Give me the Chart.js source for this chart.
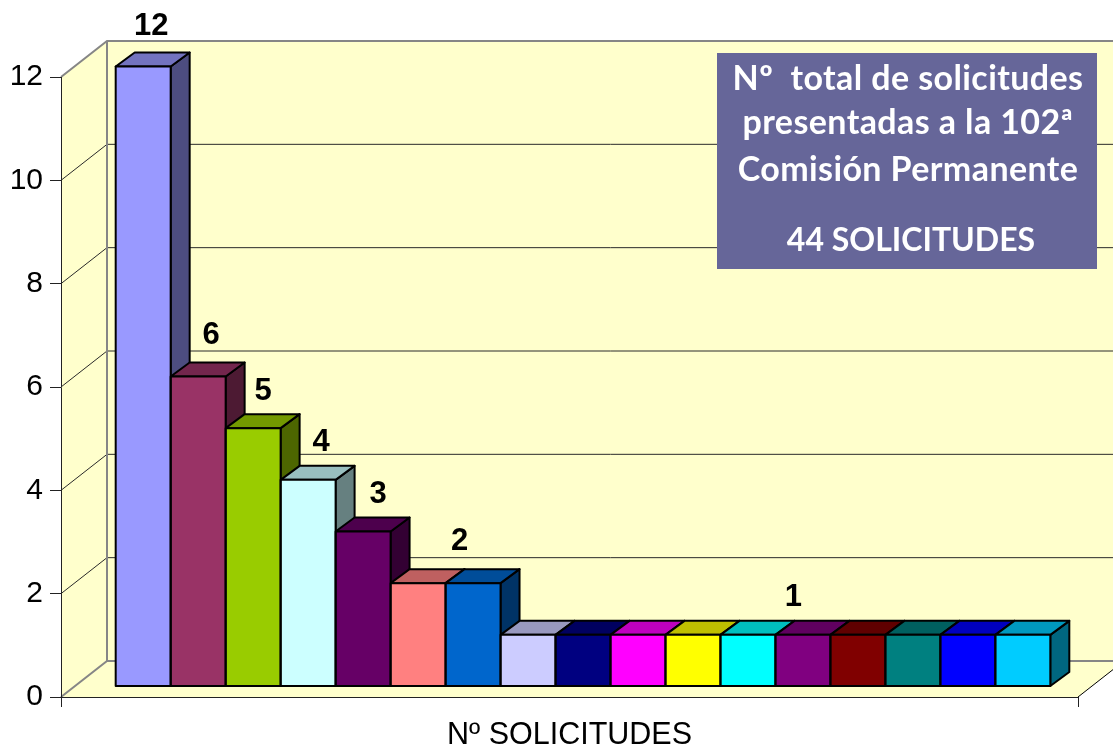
<!DOCTYPE html>
<html>
<head>
<meta charset="utf-8">
<style>html,body{margin:0;padding:0;background:#fff;overflow:hidden}canvas{display:block}</style>
<script src="https://cdn.jsdelivr.net/npm/chart.js@4"></script>
</head>
<body>
<canvas id="c" width="1113" height="747"></canvas>
<script>
const categories = ["Nº SOLICITUDES"];
const seriesValues = [12, 6, 5, 4, 3, 2, 2, 1, 1, 1, 1, 1, 1, 1, 1, 1, 1];
const seriesColors = ["#9999FF","#993366","#99CC00","#CCFFFF","#660066","#FF8080","#0066CC","#CCCCFF","#000080","#FF00FF","#FFFF00","#00FFFF","#800080","#800000","#008080","#0000FF","#00CCFF"];
const yTicksStep = 2;
const yMax = 12;
const noteLines = ["Nº  total de solicitudes","presentadas a la 102ª","Comisión Permanente","44 SOLICITUDES"];

const WALL = "#FFFFCC", GRAY = "#868686";
const WALL_DX = 46, WALL_DY = -36;      // depth of the chart box
const BAR_DX = 13.5, BAR_DY = -10.5;    // bars stand inside the box
const FACE_DX = 19, FACE_DY = -14;      // depth of each bar
const labelNudge = [[-5, 0], [0, -1], [-3, 3], [0, 3], [2, 3], [1, -2], [5, 3]];

function shade(hex, f) {
  const n = parseInt(hex.slice(1), 16);
  return "rgb(" + [(n >> 16) & 255, (n >> 8) & 255, n & 255].map(v => Math.round(v * f)).join(",") + ")";
}
function line(ctx, pts, color, width) {
  ctx.beginPath();
  pts.forEach((p, i) => i ? ctx.lineTo(p[0], p[1]) : ctx.moveTo(p[0], p[1]));
  ctx.strokeStyle = color; ctx.lineWidth = width; ctx.stroke();
}
function poly(ctx, pts, fill) {
  ctx.beginPath();
  pts.forEach((p, i) => i ? ctx.lineTo(p[0], p[1]) : ctx.moveTo(p[0], p[1]));
  ctx.closePath();
  ctx.fillStyle = fill; ctx.fill();
  ctx.strokeStyle = "#000"; ctx.lineWidth = 2; ctx.lineJoin = "round"; ctx.stroke();
}
function barRect(chart, i) {
  const b = chart.getDatasetMeta(i).data[0];
  return { l: b.x - b.width / 2, r: b.x + b.width / 2, t: b.y, b: b.base };
}

const box3d = {
  id: "box3d",
  beforeDraw(chart) {
    const { ctx, chartArea: a, scales } = chart;
    const y = scales.y;
    const L = a.left, R = a.right, T = a.top, B = a.bottom;
    const W = chart.width + 40;
    ctx.save();
    ctx.fillStyle = WALL;
    ctx.beginPath(); // left wall, back wall, floor
    ctx.moveTo(L, T); ctx.lineTo(L + WALL_DX, T + WALL_DY); ctx.lineTo(W, T + WALL_DY);
    ctx.lineTo(W, B + WALL_DY); ctx.lineTo(R + WALL_DX, B + WALL_DY); ctx.lineTo(R, B); ctx.lineTo(L, B);
    ctx.closePath(); ctx.fill();
    for (let v = yTicksStep; v < yMax; v += yTicksStep) {
      const p = y.getPixelForValue(v);
      line(ctx, [[L, p], [L + WALL_DX, p + WALL_DY], [W, p + WALL_DY]], "#2a2a2a", 1);
    }
    line(ctx, [[L, T], [L + WALL_DX, T + WALL_DY], [W, T + WALL_DY]], GRAY, 2);
    line(ctx, [[L + WALL_DX, T + WALL_DY], [L + WALL_DX, B + WALL_DY]], GRAY, 2);
    line(ctx, [[L, B], [L + WALL_DX, B + WALL_DY], [W, B + WALL_DY]], GRAY, 2);
    line(ctx, [[R, B], [R + WALL_DX, B + WALL_DY]], "#000", 1);
    ctx.restore();
  },
  beforeDatasetsDraw(chart) {
    const ctx = chart.ctx;
    ctx.save();
    ctx.translate(BAR_DX, BAR_DY);
    seriesValues.forEach((v, i) => {
      const r = barRect(chart, i), c = seriesColors[i];
      poly(ctx, [[r.r, r.t], [r.r + FACE_DX, r.t + FACE_DY], [r.r + FACE_DX, r.b + FACE_DY], [r.r, r.b]], shade(c, 0.5));
      poly(ctx, [[r.l, r.t], [r.l + FACE_DX, r.t + FACE_DY], [r.r + FACE_DX, r.t + FACE_DY], [r.r, r.t]], shade(c, 0.75));
    });
  },
  afterDatasetsDraw(chart) {
    const ctx = chart.ctx;
    seriesValues.forEach((v, i) => {
      const r = barRect(chart, i);
      ctx.strokeStyle = "#000"; ctx.lineWidth = 2;
      ctx.strokeRect(r.l, r.t, r.r - r.l, r.b - r.t);
    });
    ctx.restore();

    // one value label per run of equal values, centred over the run
    ctx.save();
    ctx.fillStyle = "#000";
    ctx.font = "bold 31px 'Liberation Sans'";
    ctx.textAlign = "center"; ctx.textBaseline = "middle";
    let s = 0, k = 0;
    while (s < seriesValues.length) {
      let e = s;
      while (e + 1 < seriesValues.length && seriesValues[e + 1] === seriesValues[s]) e++;
      const x = (barRect(chart, s).l + barRect(chart, e).r) / 2 + 14 + FACE_DX / 2 + 3;
      const top = barRect(chart, s).t + BAR_DY + FACE_DY;
      ctx.fillText(String(seriesValues[s]), x + labelNudge[k][0], top - 26 + labelNudge[k][1]);
      s = e + 1; k++;
    }
    ctx.restore();

    // note box
    ctx.save();
    ctx.fillStyle = "#666699";
    ctx.fillRect(717, 53, 380, 216);
    ctx.fillStyle = "#fff";
    ctx.textAlign = "center"; ctx.textBaseline = "alphabetic";
    ctx.font = "bold 34px Lato";
    ctx.letterSpacing = "0.4px";
    [90, 134, 181].forEach((yy, i) => ctx.fillText(noteLines[i], 908, yy));
    ctx.font = "bold 32px Lato";
    ctx.letterSpacing = "0px";
    ctx.fillText(noteLines[3], 911, 251);
    ctx.restore();
  }
};

new Chart(document.getElementById("c"), {
  type: "bar",
  data: {
    labels: categories,
    datasets: seriesValues.map((v, i) => ({
      label: "S" + (i + 1),
      data: [v],
      backgroundColor: seriesColors[i],
      borderWidth: 0,
      barPercentage: 1,
      categoryPercentage: 0.919
    }))
  },
  options: {
    responsive: false,
    animation: false,
    layout: { padding: { top: 77, right: 35, bottom: 0, left: 0 } },
    plugins: { legend: { display: false }, tooltip: { enabled: false }, title: { display: false } },
    scales: {
      x: {
        type: "category",
        afterFit(s) { s.height = 50; },
        grid: { offset: true, drawOnChartArea: false, drawTicks: true, tickLength: 10, color: "#222" },
        border: { display: true, color: "#222", width: 1 },
        ticks: { color: "#000", padding: 10, font: { family: "'Liberation Sans'", size: 30.5 }, maxRotation: 0 }
      },
      y: {
        min: 0, max: yMax,
        afterFit(s) { s.width = 61; },
        grid: { drawOnChartArea: false, drawTicks: true, tickLength: 11, color: "#222" },
        border: { display: true, color: "#222", width: 1 },
        ticks: { stepSize: yTicksStep, color: "#000", padding: 7, font: { family: "'Liberation Sans'", size: 30 } }
      }
    }
  },
  plugins: [box3d]
});
</script>
</body>
</html>
